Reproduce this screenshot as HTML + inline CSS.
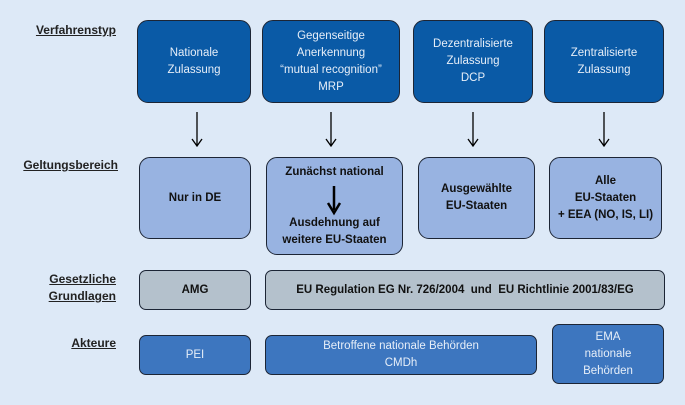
<!DOCTYPE html>
<html><head><meta charset="utf-8"><style>
body{margin:0;width:685px;height:405px;background:#dde9f7;font-family:"Liberation Sans",sans-serif;position:relative;overflow:hidden}
.b{position:absolute;box-sizing:border-box;border:1.5px solid #1c2535;border-radius:11px;display:flex;align-items:center;justify-content:center;text-align:center;font-size:11.5px;line-height:17px}
.d{background:#0a5aa6;color:#e6eef8}
.l{background:#98b3e1;color:#111;font-weight:bold}
.g{background:#b4c1cc;color:#111;font-weight:bold}
.m{background:#3d76bf;color:#e6eef8;border-radius:7px}
.t{position:absolute;font-size:12px;font-weight:bold;text-decoration:underline;color:#222;text-align:right;line-height:17px}
svg{position:absolute;left:0;top:0}
</style></head><body>
<div class="t" style="left:20px;top:22px;width:96px">Verfahrenstyp</div>
<div class="t" style="left:10px;top:157px;width:108px">Geltungsbereich</div>
<div class="t" style="left:20px;top:271px;width:96px">Gesetzliche<br>Grundlagen</div>
<div class="t" style="left:20px;top:335px;width:96px">Akteure</div>

<div class="b d" style="left:137px;top:20px;width:114px;height:83px">Nationale<br>Zulassung</div>
<div class="b d" style="left:262px;top:20px;width:138px;height:83px">Gegenseitige<br>Anerkennung<br>“mutual recognition”<br>MRP</div>
<div class="b d" style="left:413px;top:20px;width:120px;height:83px">Dezentralisierte<br>Zulassung<br>DCP</div>
<div class="b d" style="left:544px;top:20px;width:120px;height:83px">Zentralisierte<br>Zulassung</div>

<div class="b l" style="left:139px;top:157px;width:112px;height:82px">Nur in DE</div>
<div class="b l" style="left:266px;top:157px;width:137px;height:98px;display:block;padding-top:6px">Zunächst national<div style="height:34px"></div>Ausdehnung auf<br>weitere EU-Staaten</div>
<div class="b l" style="left:418px;top:157px;width:117px;height:82px">Ausgewählte<br>EU-Staaten</div>
<div class="b l" style="left:549px;top:157px;width:113px;height:82px">Alle<br>EU-Staaten<br>+ EEA (NO, IS, LI)</div>

<div class="b g" style="left:139px;top:270px;width:112px;height:40px;border-radius:7px">AMG</div>
<div class="b g" style="left:265px;top:270px;width:400px;height:40px;border-radius:7px">EU Regulation EG Nr. 726/2004 &nbsp;und &nbsp;EU Richtlinie 2001/83/EG</div>

<div class="b m" style="left:139px;top:335px;width:112px;height:40px">PEI</div>
<div class="b m" style="left:265px;top:335px;width:272px;height:40px">Betroffene nationale Behörden<br>CMDh</div>
<div class="b m" style="left:552px;top:324px;width:112px;height:60px">EMA<br>nationale<br>Behörden</div>

<svg width="685" height="405" fill="none" stroke="#000" stroke-width="1.3">
<path d="M197 112V145M192 139L197 146L202 139"/>
<path d="M331 112V145M326 139L331 146L336 139"/>
<path d="M473 112V145M468 139L473 146L478 139"/>
<path d="M604 112V145M599 139L604 146L609 139"/>
<path d="M334 186V210" stroke-width="2.5"/>
<path d="M328 203L334 213L340 203" stroke-width="2.5"/>
</svg>
</body></html>
